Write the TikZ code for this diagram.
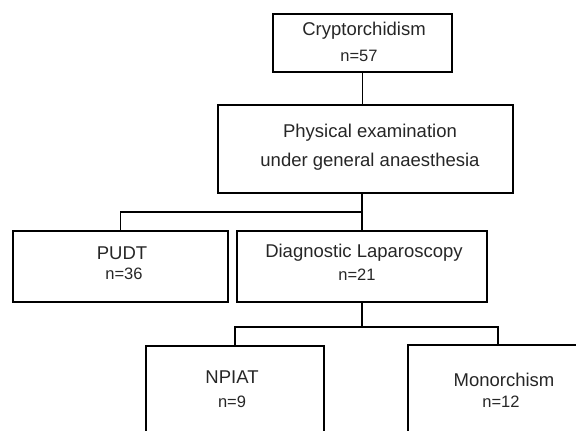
\documentclass[tikz,border=0pt]{standalone}
\usepackage{fontspec}
\setmainfont{Liberation Sans}
\begin{document}
\begin{tikzpicture}[x=1pt,y=-1pt,
  box/.style={draw, line width=1.9pt, rectangle, inner sep=0pt, outer sep=0pt},
  ttl/.style={anchor=base, inner sep=0pt, font=\fontsize{18.5}{22}\selectfont, text=black!85},
  num/.style={anchor=base, inner sep=0pt, font=\fontsize{16.5}{20}\selectfont, text=black!85},
  link/.style={line width=1.9pt}]
\useasboundingbox (0,0) rectangle (576,431);
\clip (0,0) rectangle (576,431);
% boxes
\node[box, minimum width=179pt, minimum height=58pt] (crypt) at (362.5,43) {};
\node[box, minimum width=295pt, minimum height=88pt] (phys) at (365.5,149) {};
\node[box, minimum width=215pt, minimum height=71pt] (pudt) at (120.5,266.5) {};
\node[box, minimum width=250pt, minimum height=71pt] (diag) at (362,266.5) {};
\node[box, minimum width=178pt, minimum height=90pt] (npiat) at (235,391) {};
\node[box, minimum width=180pt, minimum height=92pt] (mono) at (498,391) {};
% texts
\node[ttl] (cryptT) at (364,35.7) {Cryptorchidism};
\node[num] (cryptN) at (359,61.7) {n=57};
\node[ttl] (physT1) at (370,137.7) {Physical examination};
\node[ttl] (physT2) at (370,166.7) {under general anaesthesia};
\node[ttl] (pudtT) at (122,259.3) {PUDT};
\node[num] (pudtN) at (124,279) {n=36};
\node[ttl] (diagT) at (364,257.3) {Diagnostic Laparoscopy};
\node[num] (diagN) at (357,280) {n=21};
\node[ttl] (npiatT) at (232,383.3) {NPIAT};
\node[num] (npiatN) at (232,407.7) {n=9};
\node[ttl] (monoT) at (504,386) {Monorchism};
\node[num] (monoN) at (501,407.7) {n=12};
% connectors
\draw[link] (crypt.south) -- (crypt.south |- phys.north);
\coordinate (j1) at (362,212);
\coordinate (j2) at (362,327);
\draw[link] (phys.south -| diag.north) -- (diag.north);
\draw[link] (j1) -| (pudt.north);
\draw[link] (diag.south) -- (j2);
\draw[link] (npiat.north) |- (j2) -| (mono.north);
\end{tikzpicture}
\end{document}
